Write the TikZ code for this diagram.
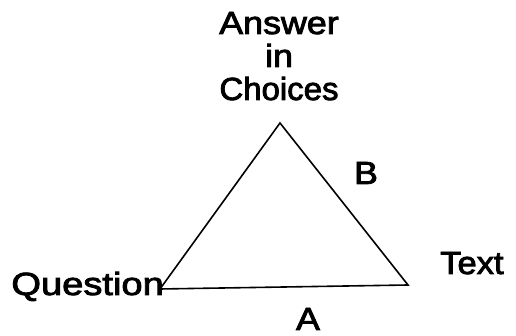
\documentclass[tikz,border=0pt]{standalone}
\usepackage{fontspec}
\setmainfont{Liberation Sans}
\newfontface\heavyface{Liberation Sans}[FakeBold=2.5]
\newcommand{\wide}[2][1.12]{\scalebox{#1}[1]{#2}}
\begin{document}
\begin{tikzpicture}[x=1pt,y=1pt,
  lbl/.style={font=\fontsize{32}{33}\heavyface, inner sep=0pt},
  edge/.style={line width=1.6pt, line join=miter}]
\useasboundingbox (0,0) rectangle (516,336);
\coordinate (q) at (160,47);
\coordinate (c) at (280,213);
\coordinate (t) at (408,51);
\draw[edge] (q) -- (c) -- (t) -- cycle;
\node[lbl, anchor=base east] (question) at (164,41) {\wide[1.19]{Question}};
\node[lbl, anchor=base west] (text) at (440,62) {\wide[1.08]{Text}};
\node[lbl, align=center, anchor=base] (answer) at (279,236) {\wide{Answer}\\\wide{in}\\\wide[1.03]{Choices}};
\node[lbl, anchor=base] (a) at (308,6) {\wide{A}};
\node[lbl, anchor=base] (b) at (366,152) {\wide{B}};
\end{tikzpicture}
\end{document}
